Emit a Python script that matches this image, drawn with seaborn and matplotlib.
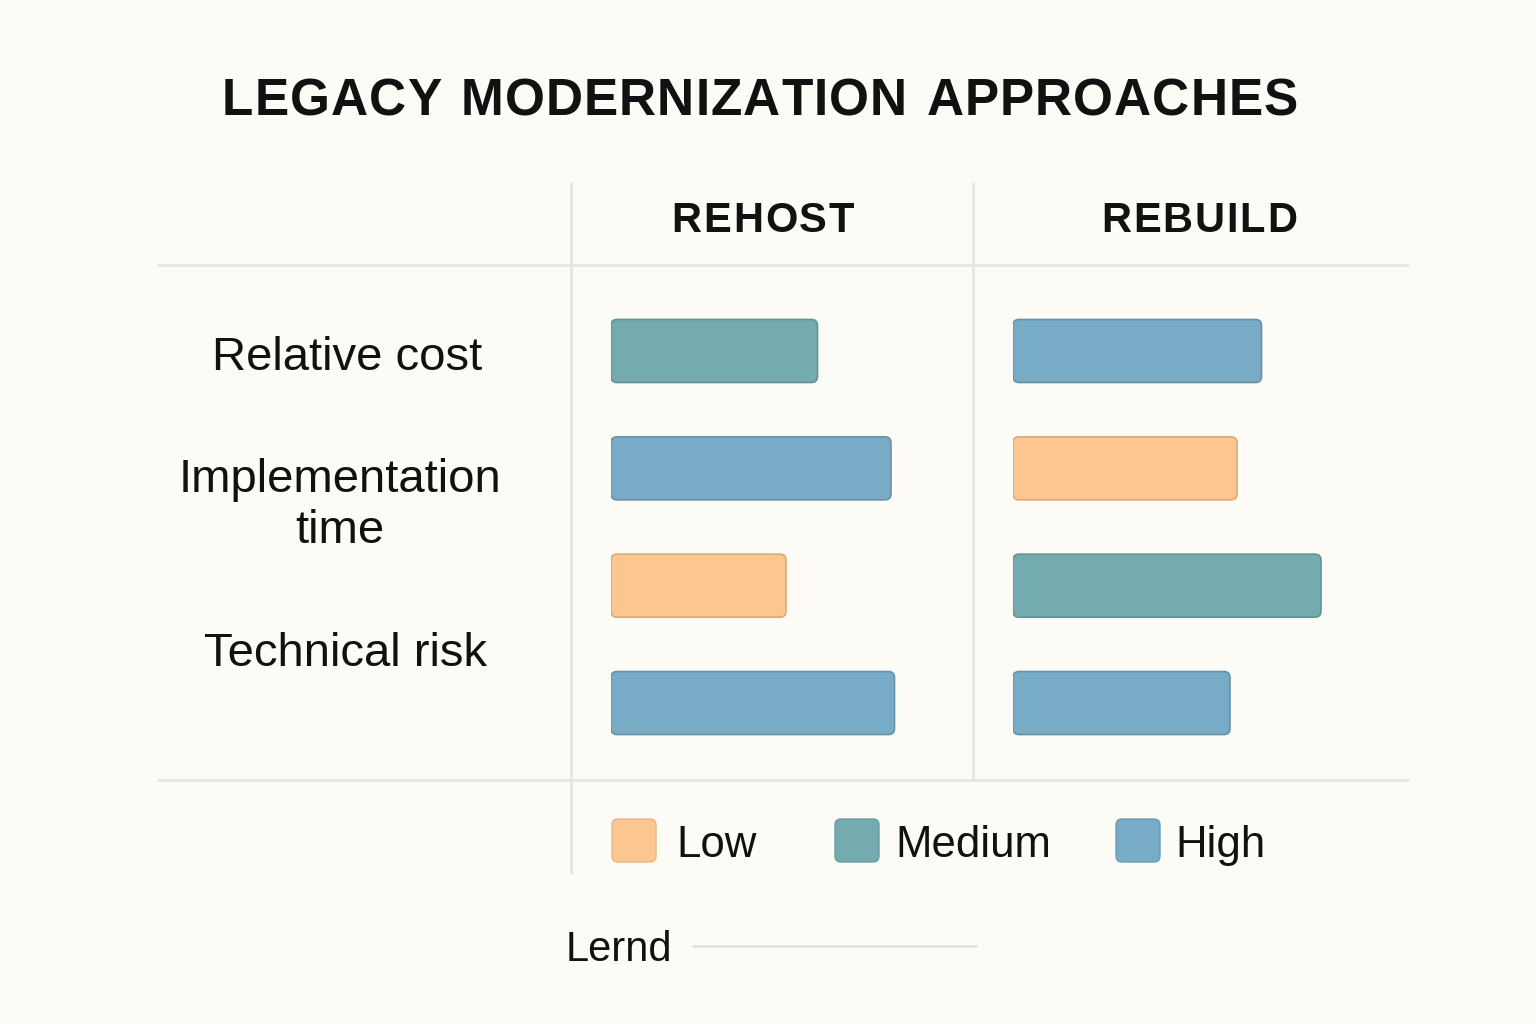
"""Legacy modernization approaches: rehost vs rebuild, shown as level bars.

Out: out.png
"""

import matplotlib

matplotlib.use("Agg")
import matplotlib.pyplot as plt
import pandas as pd
import seaborn as sns
from matplotlib.colors import to_rgb
from matplotlib.patches import FancyBboxPatch

sns.set_style("white")
plt.rcParams["font.family"] = ["Liberation Sans", "DejaVu Sans"]

BG = "#FCFBF6"
GRID = "#E6E4E0"

TITLE = "LEGACY MODERNIZATION APPROACHES"
APPROACHES = ["REHOST", "REBUILD"]
BAR_ROWS = ["row1", "row2", "row3", "row4"]
ROW_LABELS = ["Relative cost", "Implementation\ntime", "Technical risk"]

REHOST_SCORE = [5.9, 8.0, 5.0, 8.1]
REHOST_LEVEL = ["Medium", "High", "Low", "High"]
REBUILD_SCORE = [7.1, 6.4, 8.8, 6.2]
REBUILD_LEVEL = ["High", "Low", "Medium", "High"]

LEVELS = ["Low", "Medium", "High"]
LEVEL_COLOURS = ["#FCC690", "#74ABAF", "#78ABC5"]
FOOTER = "Lernd"

PALETTE = dict(zip(LEVELS, LEVEL_COLOURS))
W, H = 1536, 1024


def darker(c, f=0.86):
    return tuple(v * f for v in to_rgb(c))


def spaced_text(ax, renderer, cx, y, s, width, **kw):
    """Letter-spaced text centred on cx, stretched to the given pixel width."""
    widths = []
    for ch in s:
        t = ax.text(0, 0, ch if ch != " " else "n", **kw)
        bb = t.get_window_extent(renderer)
        widths.append(bb.width * (0.55 if ch == " " else 1.0))
        t.remove()
    gap = (width - sum(widths)) / (len(s) - 1)
    x = cx - width / 2
    for ch, w in zip(s, widths):
        if ch != " ":
            ax.text(x, y, ch, ha="left", va="baseline", **kw)
        x += w + gap


def rounded_bars(ax, radius_x, aspect):
    for p in list(ax.patches):
        x, y = p.get_x(), p.get_y()
        w, h = p.get_width(), p.get_height()
        fc = p.get_facecolor()
        ax.add_patch(
            FancyBboxPatch(
                (x, y), w, h,
                boxstyle=f"round,pad=0,rounding_size={radius_x}",
                mutation_aspect=aspect,
                facecolor=fc, edgecolor=darker(fc), linewidth=1.2, zorder=3,
            )
        )
        p.remove()


def main() -> None:
    fig = plt.figure(figsize=(W / 100, H / 100), dpi=100, facecolor=BG)
    renderer = fig.canvas.get_renderer()

    # overlay in pixel coordinates for the table frame and text
    over = fig.add_axes([0, 0, 1, 1], zorder=0)
    over.set_xlim(0, W)
    over.set_ylim(H, 0)
    over.axis("off")
    over.set_facecolor(BG)

    # table lines
    for yy in (265, 780):
        over.plot([157, 1409], [yy, yy], color=GRID, lw=1.8, solid_capstyle="butt")
    over.plot([571, 571], [183, 873], color=GRID, lw=1.8)
    over.plot([973, 973], [183, 780], color=GRID, lw=1.8)

    spaced_text(over, renderer, 760, 115, TITLE, 1076, fontsize=37, fontweight="bold", color="#111111")
    spaced_text(over, renderer, 763, 232, APPROACHES[0], 183, fontsize=30, fontweight="bold", color="#111111")
    spaced_text(over, renderer, 1199, 232, APPROACHES[1], 196, fontsize=30, fontweight="bold", color="#111111")

    label_pos = [(347, 370), (340, 492), (345, 666)]
    for (lx, ly), lab in zip(label_pos, ROW_LABELS):
        lines = lab.split("\n")
        for i, line in enumerate(lines):
            over.text(lx, ly + i * 51, line, ha="center", va="baseline", fontsize=34, color="#111111")

    # bar panels
    top, bottom = 292.3, 761.7
    data = {
        APPROACHES[0]: (REHOST_SCORE, REHOST_LEVEL, 611),
        APPROACHES[1]: (REBUILD_SCORE, REBUILD_LEVEL, 1013),
    }
    span_px, xmax = 350, 10
    aspect = (len(BAR_ROWS) / (bottom - top)) / (xmax / span_px)
    for name, (scores, levels, left) in data.items():
        df = pd.DataFrame({"row": BAR_ROWS, "score": scores, "level": levels})
        ax = fig.add_axes([left / W, 1 - bottom / H, span_px / W, (bottom - top) / H], zorder=2)
        sns.barplot(
            data=df, x="score", y="row", hue="level", order=BAR_ROWS,
            hue_order=LEVELS, palette=PALETTE, dodge=False, width=0.537,
            saturation=1, orient="h", legend=False, ax=ax,
        )
        ax.set_xlim(0, xmax)
        ax.set_ylim(len(BAR_ROWS) - 0.5, -0.5)
        rounded_bars(ax, 6 * xmax / span_px, aspect)
        ax.set_facecolor("none")
        ax.axis("off")

    # legend
    for lvl, sx, tx in zip(LEVELS, [612, 835, 1116], [676, 895, 1175]):
        c = PALETTE[lvl]
        over.add_patch(
            FancyBboxPatch(
                (sx, 819), 44, 43, boxstyle="round,pad=0,rounding_size=6",
                facecolor=c, edgecolor=darker(c, 0.92), linewidth=1.0,
            )
        )
        over.text(tx, 857, lvl, ha="left", va="baseline", fontsize=31.5, color="#111111")

    over.text(566, 961, FOOTER, ha="left", va="baseline", fontsize=30, color="#111111")
    over.plot([693, 976], [946, 946], color="#E0DEDA", lw=1.8)

    fig.savefig("out.png", dpi=100, facecolor=BG)
    plt.close(fig)


if __name__ == "__main__":
    main()
